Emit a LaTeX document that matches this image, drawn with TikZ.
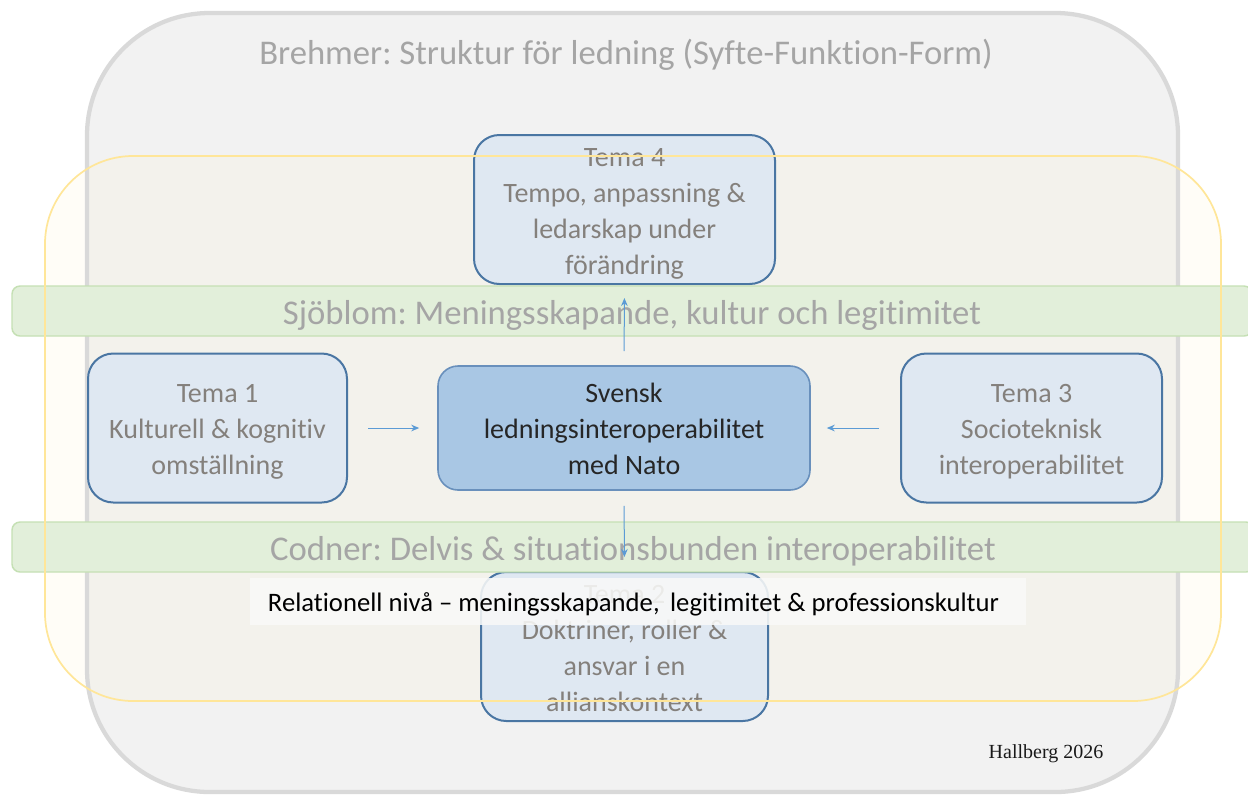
\documentclass[tikz,border=0pt]{standalone}
\usepackage{fontspec}
\setmainfont{Carlito}[Ligatures={NoCommon}]
\newfontfamily\timesf{Liberation Serif}
\usetikzlibrary{arrows.meta}
\frenchspacing
\definecolor{outerfill}{HTML}{F2F2F2}
\definecolor{outerline}{HTML}{D9D9D9}
\definecolor{yelline}{HTML}{FFE699}
\definecolor{yelfill}{HTML}{FFF2CC}
\definecolor{grnfill}{HTML}{E2EFDA}
\definecolor{grnline}{HTML}{C5E0B4}
\definecolor{temafill}{HTML}{DFE8F2}
\definecolor{temaline}{HTML}{4A76A3}
\definecolor{cfill}{HTML}{A9C7E4}
\definecolor{cline}{HTML}{6990BC}
\definecolor{tematext}{HTML}{84807C}
\definecolor{bandtext}{HTML}{A5A5A5}
\definecolor{arrcol}{HTML}{5B9BD5}
\definecolor{relfill}{HTML}{F9F9F8}
\tikzset{
  x=0.75pt, y=-0.75pt,
  temabox/.style={draw=temaline, fill=temafill, line width=1.5pt, rounded corners=19pt,
    inner sep=0pt, minimum height=111.75pt},
  tematxt/.style={align=center, text=tematext, inner sep=0pt,
    font=\fontsize{21}{27}\selectfont},
  centerbox/.style={draw=cline, fill=cfill, line width=1.2pt, rounded corners=15pt,
    inner sep=0pt, minimum width=279pt, minimum height=93pt},
  centertxt/.style={align=center, text=black!85, inner sep=0pt,
    font=\fontsize{21}{27}\selectfont},
  band/.style={draw=grnline, fill=grnfill, line width=1.1pt, rounded corners=6pt,
    inner sep=0pt, minimum height=37.5pt},
  bandtxt/.style={text=bandtext, inner sep=0pt, font=\fontsize{26}{30}\selectfont},
  arr/.style={draw=arrcol, line width=0.75pt, -{Stealth[length=6pt,width=5pt]}},
}
\begin{document}
\begin{tikzpicture}
\useasboundingbox (0,0) rectangle (1248,794);
\clip (0,0) rectangle (1248,794);
% outer Brehmer frame
\path[fill=outerfill, rounded corners=92pt] (87,13) rectangle (1178,792);
% yellow frame fill
\path[fill=yelfill, fill opacity=0.15, rounded corners=66pt] (45,156) rectangle (1221,701);
\draw[outerline, line width=3.2pt, rounded corners=92pt] (87,13) rectangle (1178,792);
\node[bandtxt] (title) at (626,55) {Brehmer: Struktur för ledning (Syfte-Funktion-Form)};
% theme boxes
\node[temabox, minimum width=225.75pt] (t4) at (624.5,209.5) {};
\node[temabox, minimum width=194.25pt] (t1) at (217.5,428) {};
\node[temabox, minimum width=195.75pt] (t3) at (1031.5,428) {};
\node[temabox, minimum width=215.25pt] (t2) at (624.5,646.5) {};
\node[centerbox] (c) at (624,428) {};
\node[tematxt] (t4txt) at ([yshift=-3pt]t4.center) {Tema 4\\Tempo, anpassning \&\\ledarskap under\\förändring};
\node[tematxt] (t1txt) at ([yshift=-3pt]t1.center) {Tema 1\\Kulturell \& kognitiv\\omställning};
\node[tematxt] (t3txt) at ([yshift=-3pt]t3.center) {Tema 3\\Socioteknisk\\interoperabilitet};
\node[tematxt] (t2txt) at ([yshift=-1.5pt]t2.center) {Tema 2\\Doktriner, roller \&\\ansvar i en\\allianskontext};
\node[centertxt] (ctxt) at ([yshift=-0.75pt]c.center) {Svensk\\ledningsinteroperabilitet\\med Nato};
% bands
\node[band, minimum width=930pt] (sjob) at (632,311) {};
\node[bandtxt] (sjobtxt) at ([yshift=-3.5pt]sjob.center) {Sjöblom: Meningsskapande, kultur och legitimitet};
\node[band, minimum width=931.5pt] (codn) at (633,547) {};
\node[bandtxt] (codntxt) at ([yshift=-3pt]codn.center) {Codner: Delvis \& situationsbunden interoperabilitet};
% arrows
\draw[arr, shorten <=15pt, shorten >=13.5pt] (t1.east) -- (c.west);
\draw[arr, shorten <=15.75pt, shorten >=12pt] (t3.west) -- (c.east);
\draw[arr, shorten <=10.5pt, shorten >=9.75pt] (c.north) -- (t4.south);
\draw[arr, shorten <=11.25pt, shorten >=10.5pt] (c.south) -- (t2.north);
% yellow frame border on top
\draw[yelline, line width=1.3pt, rounded corners=66pt] (45,156) rectangle (1221,701);
% relational level label
\node[fill=relfill, fill opacity=0.88, inner sep=0pt, minimum width=582pt, minimum height=35.25pt] (relbox) at (638,601.5) {};
\node[text=black, font=\fontsize{20}{24}\selectfont, inner sep=0pt] (rel) at (633.5,604) {Relationell nivå – meningsskapande,\, legitimitet \& professionskultur};
\node[font=\timesf\fontsize{15}{18}\selectfont, text=black!90] (hall) at (1046,754) {Hallberg 2026};
\end{tikzpicture}
\end{document}
